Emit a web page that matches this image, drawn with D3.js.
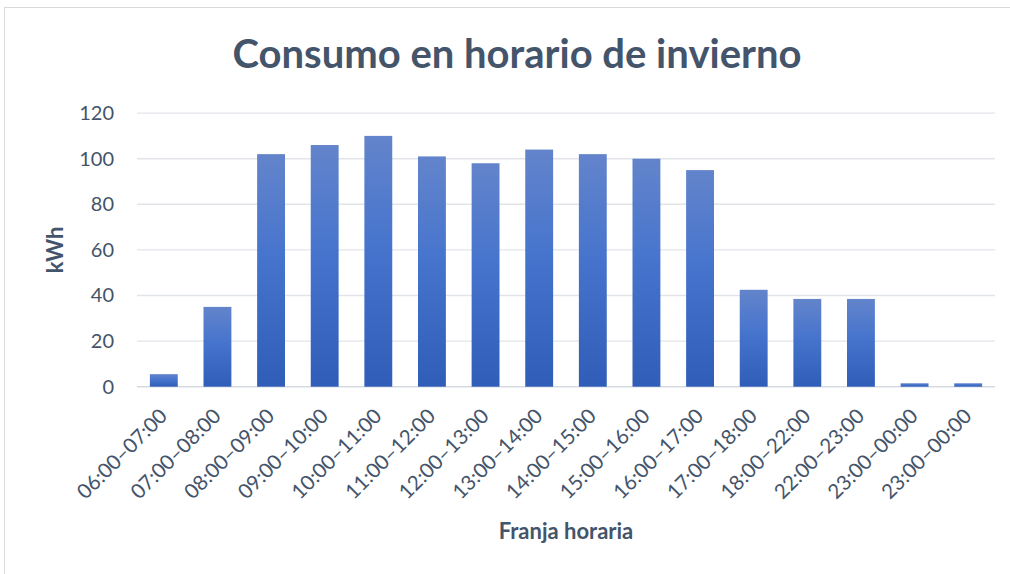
<!DOCTYPE html>
<html>
<head>
<meta charset="utf-8">
<script src="https://cdn.jsdelivr.net/npm/d3@7"></script>
<style>
  html, body { margin: 0; padding: 0; background: #ffffff; }
  svg { display: block; }
</style>
</head>
<body>
<div id="chart"></div>
<script>
const categories = ["06:00–07:00","07:00–08:00","08:00–09:00","09:00–10:00","10:00–11:00","11:00–12:00","12:00–13:00","13:00–14:00","14:00–15:00","15:00–16:00","16:00–17:00","17:00–18:00","18:00–22:00","22:00–23:00","23:00–00:00","23:00–00:00 "];
const values = [5.5, 35, 102, 106, 110, 101, 98, 104, 102, 100, 95, 42.5, 38.5, 38.5, 1.5, 1.5];
const yTicks = [0, 20, 40, 60, 80, 100, 120];
const title = "Consumo en horario de invierno";
const yTitle = "kWh";
const xTitle = "Franja horaria";

const W = 1010, H = 574;
const plotLeft = 137, plotRight = 995, plotTop = 113.1, plotBottom = 386.7;
const font = "Lato, 'Open Sans', sans-serif";
const textColor = "#44546a";

const svg = d3.select("#chart").append("svg").attr("width", W).attr("height", H);

// frame
svg.append("rect").attr("x", 4.5).attr("y", 7.5).attr("width", W + 10).attr("height", H + 10)
  .attr("fill", "none").attr("stroke", "#d9d9d9").attr("stroke-width", 1);

const defs = svg.append("defs");
const grad = defs.append("linearGradient").attr("id", "barGrad").attr("x1", 0).attr("y1", 0).attr("x2", 0).attr("y2", 1);
grad.append("stop").attr("offset", "0%").attr("stop-color", "#6384cb");
grad.append("stop").attr("offset", "45%").attr("stop-color", "#4674cd");
grad.append("stop").attr("offset", "100%").attr("stop-color", "#2f5db7");

const x = d3.scaleBand().domain(d3.range(categories.length)).range([plotLeft, plotRight]).paddingInner(0.48).paddingOuter(0.24);
const y = d3.scaleLinear().domain([0, 120]).range([plotBottom, plotTop]);

// gridlines
svg.append("g").selectAll("line").data(yTicks).join("line")
  .attr("x1", plotLeft).attr("x2", plotRight)
  .attr("y1", d => y(d)).attr("y2", d => y(d))
  .attr("stroke", d => d === 0 ? "#d6dbe3" : "#e1e5ea").attr("stroke-width", 1.4);

// y axis labels
const yAxis = d3.axisLeft(y).tickValues(yTicks).tickSize(0).tickPadding(23);
const gy = svg.append("g").attr("transform", `translate(${plotLeft},0)`).call(yAxis);
gy.select(".domain").remove();
gy.selectAll("text").attr("font-family", font).attr("font-size", 20).attr("fill", textColor);

// bars
svg.append("g").selectAll("rect").data(values).join("rect")
  .attr("x", (d, i) => x(i))
  .attr("width", x.bandwidth())
  .attr("y", d => y(d))
  .attr("height", d => y(0) - y(d))
  .attr("fill", "url(#barGrad)");

// x axis labels
const xAxis = d3.axisBottom(x).tickFormat(i => categories[i].trim()).tickSize(0).tickPadding(0);
const gx = svg.append("g").attr("transform", `translate(0,${plotBottom})`).call(xAxis);
gx.select(".domain").remove();
gx.selectAll("text")
  .attr("font-family", font).attr("font-size", 20.5).attr("fill", textColor)
  .attr("text-anchor", "end")
  .attr("dy", null).attr("y", 0)
  .attr("transform", "translate(1,27) rotate(-45)")
  .attr("dominant-baseline", "middle");

// title
svg.append("text").attr("x", 517).attr("y", 68).attr("text-anchor", "middle")
  .attr("font-family", font).attr("font-weight", "bold").attr("font-size", 40)
  .attr("fill", textColor).text(title);

// y title
svg.append("text").attr("transform", "translate(63,250) rotate(-90)").attr("text-anchor", "middle")
  .attr("font-family", font).attr("font-weight", "bold").attr("font-size", 22)
  .attr("fill", textColor).text(yTitle);

// x title
svg.append("text").attr("x", 566).attr("y", 539).attr("text-anchor", "middle")
  .attr("font-family", font).attr("font-weight", "bold").attr("font-size", 22)
  .attr("fill", textColor).text(xTitle);
</script>
</body>
</html>
